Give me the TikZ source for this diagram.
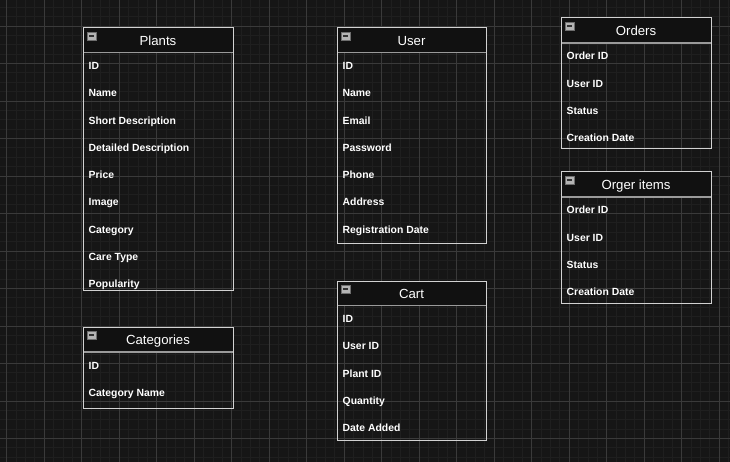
\documentclass[tikz,border=0pt]{standalone}
\usepackage{fontspec}
\setmainfont{Liberation Sans}
\definecolor{bgc}{HTML}{161616}
\definecolor{minorc}{HTML}{1F1F1F}
\definecolor{majorc}{HTML}{3A3A3A}
\definecolor{headc}{HTML}{111111}
\definecolor{borderc}{HTML}{D2D2D2}
\definecolor{sepc}{HTML}{9A9A9A}
\definecolor{iconc}{HTML}{B4B4B4}
\definecolor{icond}{HTML}{6E6E6E}
\tikzset{
  minorline/.style={draw=minorc, line width=0.8pt},
  majorline/.style={draw=majorc, line width=0.9pt},
  tableborder/.style={draw=borderc, line width=1pt},
  sepline/.style={draw=sepc, line width=1.6pt},
  titletext/.style={text=white, inner sep=0pt, anchor=base, font=\fontsize{13.2}{15}\selectfont},
  fieldtext/.style={text=white, inner sep=0pt, anchor=base west, font=\fontsize{10.4}{12}\selectfont\bfseries},
  iconbox/.style={draw=icond, fill=iconc, line width=0.6pt, minimum width=9pt, minimum height=8pt, inner sep=0pt,
    path picture={\draw[black!80, line width=1.1pt] ([xshift=2pt]path picture bounding box.west) -- ([xshift=-2pt]path picture bounding box.east);}}
}
\newcommand\erdtable[8]{%
  \path[fill=headc] (#2,#4) rectangle (#3,#5);
  \draw[sepline] (#2,#5) -- (#3,#5);
  \draw[tableborder] (#2,#4) rectangle (#3,#6);
  \node[titletext] (#1-title) at ({(#2+#3)/2},{(#4+#5)/2+5}) {#7};
  \node[iconbox] (#1-icon) at ({#2+8.5},{#4+8}) {};
  \foreach \f [count=\i] in {#8} {
    \node[fieldtext] (#1-f\i) at ({#2+5.5},{#5+17+27.3*(\i-1)}) {\f};
  }%
}
\begin{document}
\begin{tikzpicture}[x=1pt,y=-1pt]
\useasboundingbox (0,0) rectangle (730,462);
\fill[bgc] (0,0) rectangle (730,462);
% minor grid
\foreach \i in {-1,...,78} { \draw[minorline] ({6.7+9.375*\i},0) -- ({6.7+9.375*\i},462); }
\foreach \j in {-3,...,47} { \draw[minorline] (0,{26+9.375*\j}) -- (730,{26+9.375*\j}); }
% major grid
\foreach \i in {0,...,19} { \draw[majorline] ({6.7+37.5*\i},0) -- ({6.7+37.5*\i},462); }
\foreach \j in {0,...,11} { \draw[majorline] (0,{26+37.5*\j}) -- (730,{26+37.5*\j}); }
% tables
\erdtable{plants}{83}{233}{28}{52.5}{290}{Plants}{ID,Name,Short Description,Detailed Description,Price,Image,Category,Care Type,Popularity}
\erdtable{user}{337}{486}{28}{52.5}{243}{User}{ID,Name,Email,Password,Phone,Address,Registration Date}
\erdtable{orders}{561}{711}{18}{43}{149}{Orders}{Order ID,User ID,Status,Creation Date}
\erdtable{items}{561}{711}{172}{197}{303}{Orger items}{Order ID,User ID,Status,Creation Date}
\erdtable{categories}{83}{233}{327}{352}{408}{Categories}{ID,Category Name}
\erdtable{cart}{337}{486}{281}{305.5}{440}{Cart}{ID,User ID,Plant ID,Quantity,Date Added}
\end{tikzpicture}
\end{document}
